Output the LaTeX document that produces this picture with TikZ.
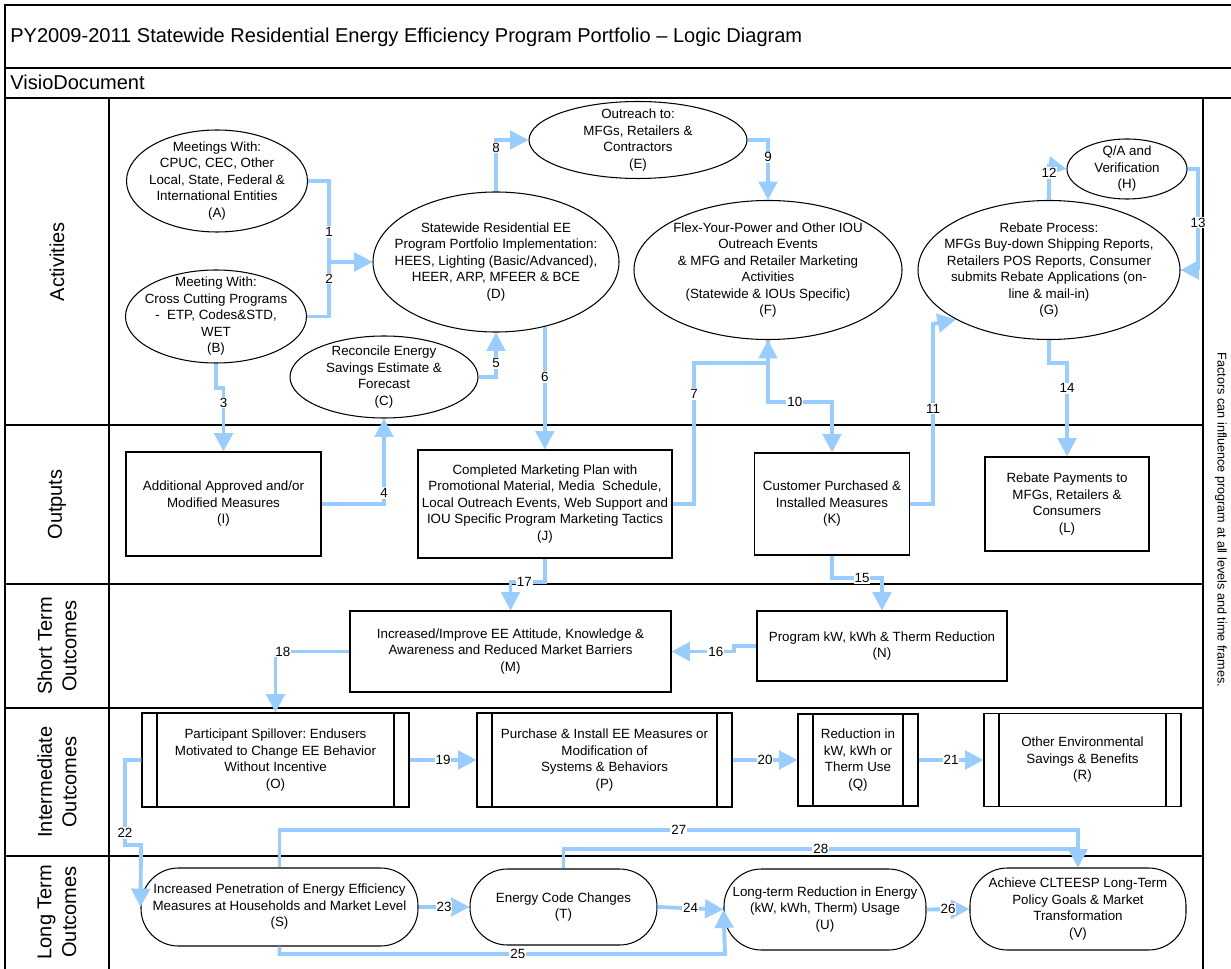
\documentclass[tikz,border=0pt]{standalone}
\usepackage{fontspec}
\setmainfont{Liberation Sans}
\usetikzlibrary{shapes.geometric, arrows.meta, calc}
\definecolor{linkblue}{RGB}{153,204,255}
\newcommand{\nf}{\fontsize{7.6}{9.4}\selectfont}
\newcommand{\lf}{\fontsize{11.4}{14}\selectfont}
\frenchspacing

\begin{document}
\begin{tikzpicture}[x=0.02cm, y=-0.02cm,
    frame/.style={line width=0.8pt},
    lane/.style={rotate=90, align=center, font=\lf},
    txt/.style={align=center, font=\nf, inner sep=0pt},
    oval/.style 2 args={ellipse, draw, line width=0.6pt, inner sep=0pt,
      minimum width=#1*0.02cm, minimum height=#2*0.02cm},
    box/.style 2 args={rectangle, draw, line width=0.6pt, align=center, font=\nf,
      inner sep=1pt, minimum width=#1*0.02cm, minimum height=#2*0.02cm},
    proc/.style 2 args={box={#1}{#2}, path picture={
      \draw ([xshift=0.3cm]path picture bounding box.north west) -- ([xshift=0.3cm]path picture bounding box.south west);
      \draw ([xshift=-0.3cm]path picture bounding box.north east) -- ([xshift=-0.3cm]path picture bounding box.south east);}},
    stad/.style 2 args={box={#1}{#2}, rounded corners=0.75cm},
    flow/.style={draw=linkblue, line width=2.2pt, -{Triangle[length=10.5pt,width=10.5pt]}},
    num/.style={fill=white, inner sep=0.6pt, font=\nf}]
  \useasboundingbox (0,0) rectangle (1231,969);

  % frame and lanes
  \draw[frame] (5,969) -- (5,5) -- (1231,5);
  \draw[frame] (5,68) -- (1231,68);
  \draw[frame] (5,98) -- (1231,98);
  \draw[frame] (109,98) -- (109,969);
  \draw[frame] (1203,98) -- (1203,969);
  \foreach \y in {425,584,708,856}
    \draw[frame] (5,\y) -- (1203,\y);

  \node[anchor=west, inner sep=0pt, font=\lf] (title) at (10,37) {PY2009-2011 Statewide Residential Energy Efficiency Program Portfolio – Logic Diagram};
  \node[anchor=west, inner sep=0pt, font=\lf] (visio) at (10,82) {VisioDocument};

  \node[lane] (lact) at (57,261.5) {Activities};
  \node[lane] (lout) at (57,504.5) {Outputs};
  \node[lane] (lshort) at (57,646) {Short Term\\Outcomes};
  \node[lane] (linter) at (57,782) {Intermediate\\Outcomes};
  \node[lane] (llong) at (57,912) {Long Term\\Outcomes};
  \node[rotate=-90, font=\fontsize{7.2}{9}\selectfont] (note) at (1221,520) {Factors can influence program at all levels and time frames.};

  % activities
  \node[oval={181}{102}, label={[txt]center:{Meetings With:\\CPUC, CEC, Other\\Local, State, Federal \&\\International Entities\\(A)}}] (A) at (217,181) {};
  \node[oval={181}{93}, label={[txt]center:{Meeting With:\\Cross Cutting Programs\\- \ ETP, Codes\&STD,\\WET\\(B)}}] (B) at (216,316.5) {};
  \node[oval={188}{82}, label={[txt]center:{Reconcile Energy\\Savings Estimate \&\\Forecast\\(C)}}] (C) at (384,377) {};
  \node[oval={246}{140}, label={[txt]center:{Statewide Residential EE\\Program Portfolio Implementation:\\HEES, Lighting (Basic/Advanced),\\HEER, ARP, MFEER \& BCE\\(D)}}] (D) at (496,262) {};
  \node[oval={218}{77}, label={[txt]center:{Outreach to:\\MFGs, Retailers \&\\Contractors\\(E)}}] (E) at (638,140) {};
  \node[oval={268}{139}, label={[txt]center:{Flex-Your-Power and Other IOU\\Outreach Events\\\& MFG and Retailer Marketing\\Activities\\(Statewide \& IOUs Specific)\\(F)}}] (F) at (768,270) {};
  \node[oval={262}{139}, label={[txt]center:{Rebate Process:\\MFGs Buy-down Shipping Reports,\\Retailers POS Reports, Consumer\\submits Rebate Applications (on-\\line \& mail-in)\\(G)}}] (G) at (1049,270) {};
  \node[oval={120}{60}, label={[txt]center:{Q/A and\\Verification\\(H)}}] (H) at (1127,169) {};

  % outputs
  \node[box={195}{104}] (I) at (223.5,504) {Additional Approved and/or\\Modified Measures\\(I)};
  \node[box={254}{108}] (J) at (545,504) {Completed Marketing Plan with\\Promotional Material, Media\ \ Schedule,\\Local Outreach Events, Web Support and\\IOU Specific Program Marketing Tactics\\(J)};
  \node[box={155}{102}] (K) at (832,504) {Customer Purchased \&\\Installed Measures\\(K)};
  \node[box={164}{94}] (L) at (1067,504) {Rebate Payments to\\MFGs, Retailers \&\\Consumers\\(L)};

  % short term
  \node[box={321}{81}] (M) at (510.5,651.5) {Increased/Improve EE Attitude, Knowledge \&\\Awareness and Reduced Market Barriers\\(M)};
  \node[box={250}{70}] (N) at (882,646) {Program kW, kWh \& Therm Reduction\\(N)};

  % intermediate
  \node[proc={267}{94}] (O) at (275.5,760) {Participant Spillover: Endusers\\Motivated to Change EE Behavior\\Without Incentive\\(O)};
  \node[proc={255}{94}] (P) at (604.5,760) {Purchase \& Install EE Measures or\\Modification of\\Systems \& Behaviors\\(P)};
  \node[proc={120}{92}] (Q) at (858,760) {Reduction in\\kW, kWh or\\Therm Use\\(Q)};
  \node[proc={197}{93}] (R) at (1082.5,760) {Other Environmental\\Savings \& Benefits\\(R)};

  % long term
  \node[stad={277}{78}] (S) at (279.5,907) {Increased Penetration of Energy Efficiency\\Measures at Households and Market Level\\(S)};
  \node[stad={187}{76}] (T) at (563.5,907) {Energy Code Changes\\(T)};
  \node[stad={202}{81}] (U) at (825,909.5) {Long-term Reduction in Energy\\(kW, kWh, Therm) Usage\\(U)};
  \node[stad={216}{82}] (V) at (1078,909) {Achieve CLTEESP Long-Term\\Policy Goals \& Market\\Transformation\\(V)};

  % connectors
  \draw[flow] (A.east) -- (329,181) -- (329,262) node[num,pos=0.63] {1} -- (D.west);
  \draw[flow] (B.east) -- (329,316.5) -- (329,262) node[num,pos=0.7] {2} -- (D.west);
  \draw[flow] (B.south) -- (216,388) -- (223.5,388) -- (I.north) node[num,pos=0.23] {3};
  \draw[flow] (I.east) -- (384,504) -- (C.south) node[num,pos=0.13] {4};
  \draw[flow] (C.east) -- (496,377) -- (D.south) node[num,pos=0.31] {5};
  \draw[flow] (D.-53) -- (D.-53 |- J.north) node[num,pos=0.41] {6};
  \draw[flow] (J.east) -- (694,504) -- (694,363) node[num,pos=0.78] {7} -- (768,363) -- (F.south);
  \draw[flow] (D.north) -- (496,140) node[num,pos=0.85] {8} -- (E.west);
  \draw[flow] (E.east) -- (768,140) -- (F.north) node[num,pos=0.29] {9};
  \draw[flow] (F.south) -- (768,402) -- (832,402) node[num,pos=0.42] {10} -- (K.north);
  \draw[flow] (K.east) -- (933,504) -- (933,324) node[num,pos=0.53] {11} -- (G.208);
  \draw[flow] (G.north) -- (1049,166) node[num,pos=0.8] {12} -- (H.west);
  \draw[flow] (H.east) -- (1198,169) -- (1198,270) node[num,pos=0.53] {13} -- (G.east);
  \draw[flow] (G.south) -- (1049,363) -- (1067,363) -- (L.north) node[num,pos=0.27] {14};
  \draw[flow] (K.south) -- (832,578) -- (882,578) node[num,pos=0.6] {15} -- (N.north);
  \draw[flow] (N.west) -- (734,646) -- (734,651.5) -- (M.east) node[num,pos=0.29] {16};
  \draw[flow] (J.south) -- (545,582) -- (510.5,582) node[num,pos=0.6] {17} -- (M.north);
  \draw[flow] (M.west) -- (275.5,651.5) node[num,pos=0.9] {18} -- (O.north);
  \draw[flow] (O.east) -- (P.west) node[num,pos=0.5] {19};
  \draw[flow] (P.east) -- (Q.west) node[num,pos=0.5] {20};
  \draw[flow] (Q.east) -- (R.west) node[num,pos=0.5] {21};
  \draw[flow] (O.west) -- (125,760) -- (125,845) node[num,pos=0.86] {22} -- (141,845) -- (S.west);
  \draw[flow] (S.east) -- (T.west) node[num,pos=0.5] {23};
  \draw[flow] (T.east) -- (U.west) node[num,pos=0.5] {24};
  \draw[flow] (S.south) -- (279.5,954) -- (725,954) node[num,pos=0.535] {25} -- (U.west);
  \draw[flow] (U.east) -- (V.west) node[num,pos=0.5] {26};
  \draw[flow] (S.north) -- (279.5,830) -- (1078,830) node[num,pos=0.5] {27} -- (V.north);
  \draw[flow] (T.north) -- (563.5,849) -- (1078,849) node[num,pos=0.5] {28} -- (V.north);
\end{tikzpicture}
\end{document}
